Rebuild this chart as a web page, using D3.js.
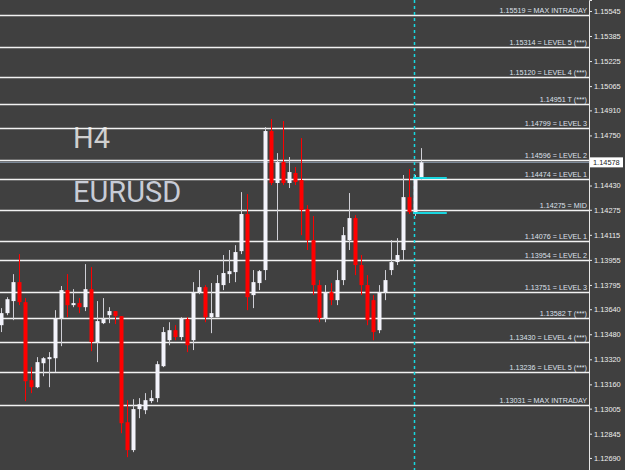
<!DOCTYPE html>
<html>
<head>
<meta charset="utf-8">
<script src="https://cdn.jsdelivr.net/npm/d3@7"></script>
<style>
  body { margin: 0; background: #404040; }
  svg { display: block; }
</style>
</head>
<body>
<svg id="chart" width="625" height="470"></svg>
<script>
// H4 candles, oldest first
var opens  = [1.13538,1.13615,1.13692,1.13813,1.13685,1.13187,1.13142,1.13295,1.13321,1.13327,
              1.13583,1.13762,1.13666,1.13679,1.13653,1.13768,1.13430,1.13551,1.13602,1.13628,
              1.13596,1.12918,1.12740,1.13002,1.12995,1.13053,1.13072,1.13276,1.13442,1.13506,
              1.13462,1.13577,1.13442,1.13749,1.13781,1.13589,1.13589,1.13794,1.13864,1.13877,
              1.14011,1.14248,1.13730,1.13807,1.13890,1.14778,1.14446,1.14580,1.14446,1.14510,
              1.14465,1.14280,1.14081,1.13794,1.13583,1.13749,1.13698,1.13826,1.14081,1.14222,
              1.13922,1.13794,1.13698,1.13506,1.13749,1.13890,1.13941,1.14018,1.14356,1.14248,
              1.14484];
var highs  = [1.13647,1.13717,1.13864,1.13992,1.13711,1.13270,1.13334,1.13334,1.13366,1.13634,
              1.13788,1.13864,1.13768,1.13711,1.13928,1.13909,1.13692,1.13711,1.13653,1.13628,
              1.13596,1.13059,1.13065,1.13072,1.13104,1.13123,1.13308,1.13526,1.13557,1.13538,
              1.13589,1.13589,1.13813,1.13890,1.13794,1.13807,1.13858,1.13986,1.14018,1.14049,
              1.14388,1.14375,1.13890,1.13890,1.14803,1.14855,1.14637,1.14842,1.14612,1.14548,
              1.14733,1.14305,1.14235,1.13826,1.13794,1.13807,1.13890,1.14165,1.14382,1.14241,
              1.13986,1.13858,1.13730,1.13794,1.13890,1.14081,1.14094,1.14497,1.14535,1.14497,
              1.14669];
var lows   = [1.13494,1.13602,1.13570,1.13666,1.13053,1.13104,1.13136,1.13212,1.13142,1.13238,
              1.13404,1.13589,1.13653,1.13615,1.13628,1.13372,1.13302,1.13545,1.13551,1.13545,
              1.12848,1.12695,1.12727,1.12944,1.12970,1.13040,1.13046,1.13270,1.13410,1.13442,
              1.13442,1.13366,1.13379,1.13736,1.13557,1.13487,1.13589,1.13762,1.13807,1.13813,
              1.13992,1.13634,1.13647,1.13762,1.13826,1.14433,1.14081,1.14433,1.14414,1.14433,
              1.14113,1.14018,1.13730,1.13557,1.13557,1.13666,1.13666,1.13794,1.14018,1.13858,
              1.13730,1.13538,1.13442,1.13487,1.13698,1.13858,1.13922,1.13954,1.14248,1.14235,
              1.14465];
var closes = [1.13615,1.13704,1.13813,1.13685,1.13180,1.13142,1.13302,1.13327,1.13334,1.13583,
              1.13762,1.13666,1.13679,1.13653,1.13768,1.13430,1.13564,1.13577,1.13628,1.13596,
              1.12912,1.12740,1.13002,1.13033,1.13059,1.13072,1.13289,1.13494,1.13506,1.13462,
              1.13583,1.13410,1.13749,1.13781,1.13589,1.13615,1.13807,1.13871,1.13883,1.14005,
              1.14248,1.13717,1.13813,1.13883,1.14778,1.14446,1.14580,1.14446,1.14516,1.14452,
              1.14273,1.14081,1.13794,1.13583,1.13749,1.13698,1.13826,1.14113,1.14222,1.13922,
              1.13794,1.13570,1.13494,1.13749,1.13826,1.13941,1.13986,1.14356,1.14260,1.14478,
              1.14578];

// pivot levels
var levelPrices = [1.15519,1.15314,1.15120,1.14951,1.14799,1.14596,1.14474,1.14275,
                   1.14076,1.13954,1.13751,1.13582,1.13430,1.13236,1.13031];
var levelNames  = ["= MAX INTRADAY","= LEVEL 5 (***)","= LEVEL 4 (***)","T (***)","= LEVEL 3","= LEVEL 2","= LEVEL 1","= MID",
                   "= LEVEL 1","= LEVEL 2","= LEVEL 3","T (***)","= LEVEL 4 (***)","= LEVEL 5 (***)","= MAX INTRADAY"];

var axisTicks = [1.15545,1.15385,1.15225,1.15065,1.14910,1.14750,1.14430,1.14275,1.14115,
                 1.13955,1.13795,1.13640,1.13480,1.13320,1.13160,1.13005,1.12845,1.12690];

var bidPrice = 1.14578;
var boxPrices = [1.14478, 1.14255];
var periodLabel = "H4", symbolLabel = "EURUSD";

var W = 625, H = 470, plotRight = 589;
var svg = d3.select("#chart");

var x = d3.scaleLinear().domain([0, 70]).range([1, 421]);
var y = d3.scaleLinear().domain([1.12613, 1.15615]).range([H, 0]);

svg.append("rect").attr("width", W).attr("height", H).attr("fill", "#404040");

// big labels
svg.append("text").attr("x", 73).attr("y", 148)
   .attr("font-family", "Roboto").attr("font-size", 29)
   .attr("fill", "#cfcfcf").text(periodLabel);
svg.append("text").attr("x", 73).attr("y", 202)
   .attr("font-family", "Roboto").attr("font-size", 29)
   .attr("fill", "#c8ccd6").text(symbolLabel);

// bid line
svg.append("line")
   .attr("x1", 0).attr("x2", plotRight)
   .attr("y1", y(bidPrice)).attr("y2", y(bidPrice))
   .attr("stroke", "#8796a8").attr("stroke-width", 1);

// level lines + labels
var levels = svg.append("g");
levelPrices.forEach(function (p, i) {
    var yy = Math.round(y(p)) + 0.5;
    levels.append("line")
        .attr("x1", 0).attr("x2", plotRight)
        .attr("y1", yy).attr("y2", yy)
        .attr("stroke", "#f2f2f2").attr("stroke-width", 1.6);
    levels.append("text")
        .attr("x", plotRight - 2).attr("y", yy - 2.5)
        .attr("text-anchor", "end")
        .attr("font-family", "Liberation Sans, Arial, sans-serif")
        .attr("font-size", 7.2)
        .attr("fill", "#dfe0ec")
        .text(p.toFixed(5) + " " + levelNames[i]);
});

// cyan vertical dashed line at the current bar
var cx = x(69) - 0.5;
svg.append("line")
   .attr("x1", cx).attr("x2", cx).attr("y1", 0).attr("y2", H)
   .attr("stroke", "#16d8e0").attr("stroke-width", 1.5)
   .attr("stroke-dasharray", "3,3");

// candles
var candles = svg.append("g");
opens.forEach(function (o, i) {
    var c = closes[i], bull = c >= o;
    var xc = Math.round(x(i));
    candles.append("line")
        .attr("x1", xc + 0.5).attr("x2", xc + 0.5)
        .attr("y1", y(highs[i])).attr("y2", y(lows[i]))
        .attr("stroke", bull ? "#cfcfd6" : "#ff0000").attr("stroke-width", 1);
    var top = y(Math.max(o, c)), bot = y(Math.min(o, c));
    candles.append("rect")
        .attr("x", xc - 1.5).attr("width", 4)
        .attr("y", top).attr("height", Math.max(1.5, bot - top))
        .attr("fill", bull ? "#f3f3fb" : "#ff0000");
});

// cyan box edges
boxPrices.forEach(function (p) {
    svg.append("line")
        .attr("x1", x(69) - 2).attr("x2", x(74.3))
        .attr("y1", y(p)).attr("y2", y(p))
        .attr("stroke", "#19d6e0").attr("stroke-width", 2);
});

// price axis
var axis = d3.axisRight(y).tickValues(axisTicks).tickSize(3).tickPadding(2)
    .tickFormat(function (d) { return d.toFixed(5); });
var ax = svg.append("g").attr("transform", "translate(" + plotRight + ",0)").call(axis);
ax.select(".domain").attr("stroke", "#e8e8e8");
ax.selectAll(".tick line").attr("stroke", "#e8e8e8");
ax.selectAll(".tick text").attr("fill", "#eeeeee")
  .attr("font-family", "Liberation Sans, Arial, sans-serif").attr("font-size", 7.4);

// current price box
var by = y(bidPrice);
svg.append("rect").attr("x", plotRight + 1).attr("y", by - 5)
   .attr("width", 33).attr("height", 10).attr("fill", "#ffffff");
svg.append("text").attr("x", plotRight + 4).attr("y", by + 2.7)
   .attr("font-family", "Liberation Sans, Arial, sans-serif").attr("font-size", 7.4)
   .attr("fill", "#222222").text(bidPrice.toFixed(5));
</script>
</body>
</html>
